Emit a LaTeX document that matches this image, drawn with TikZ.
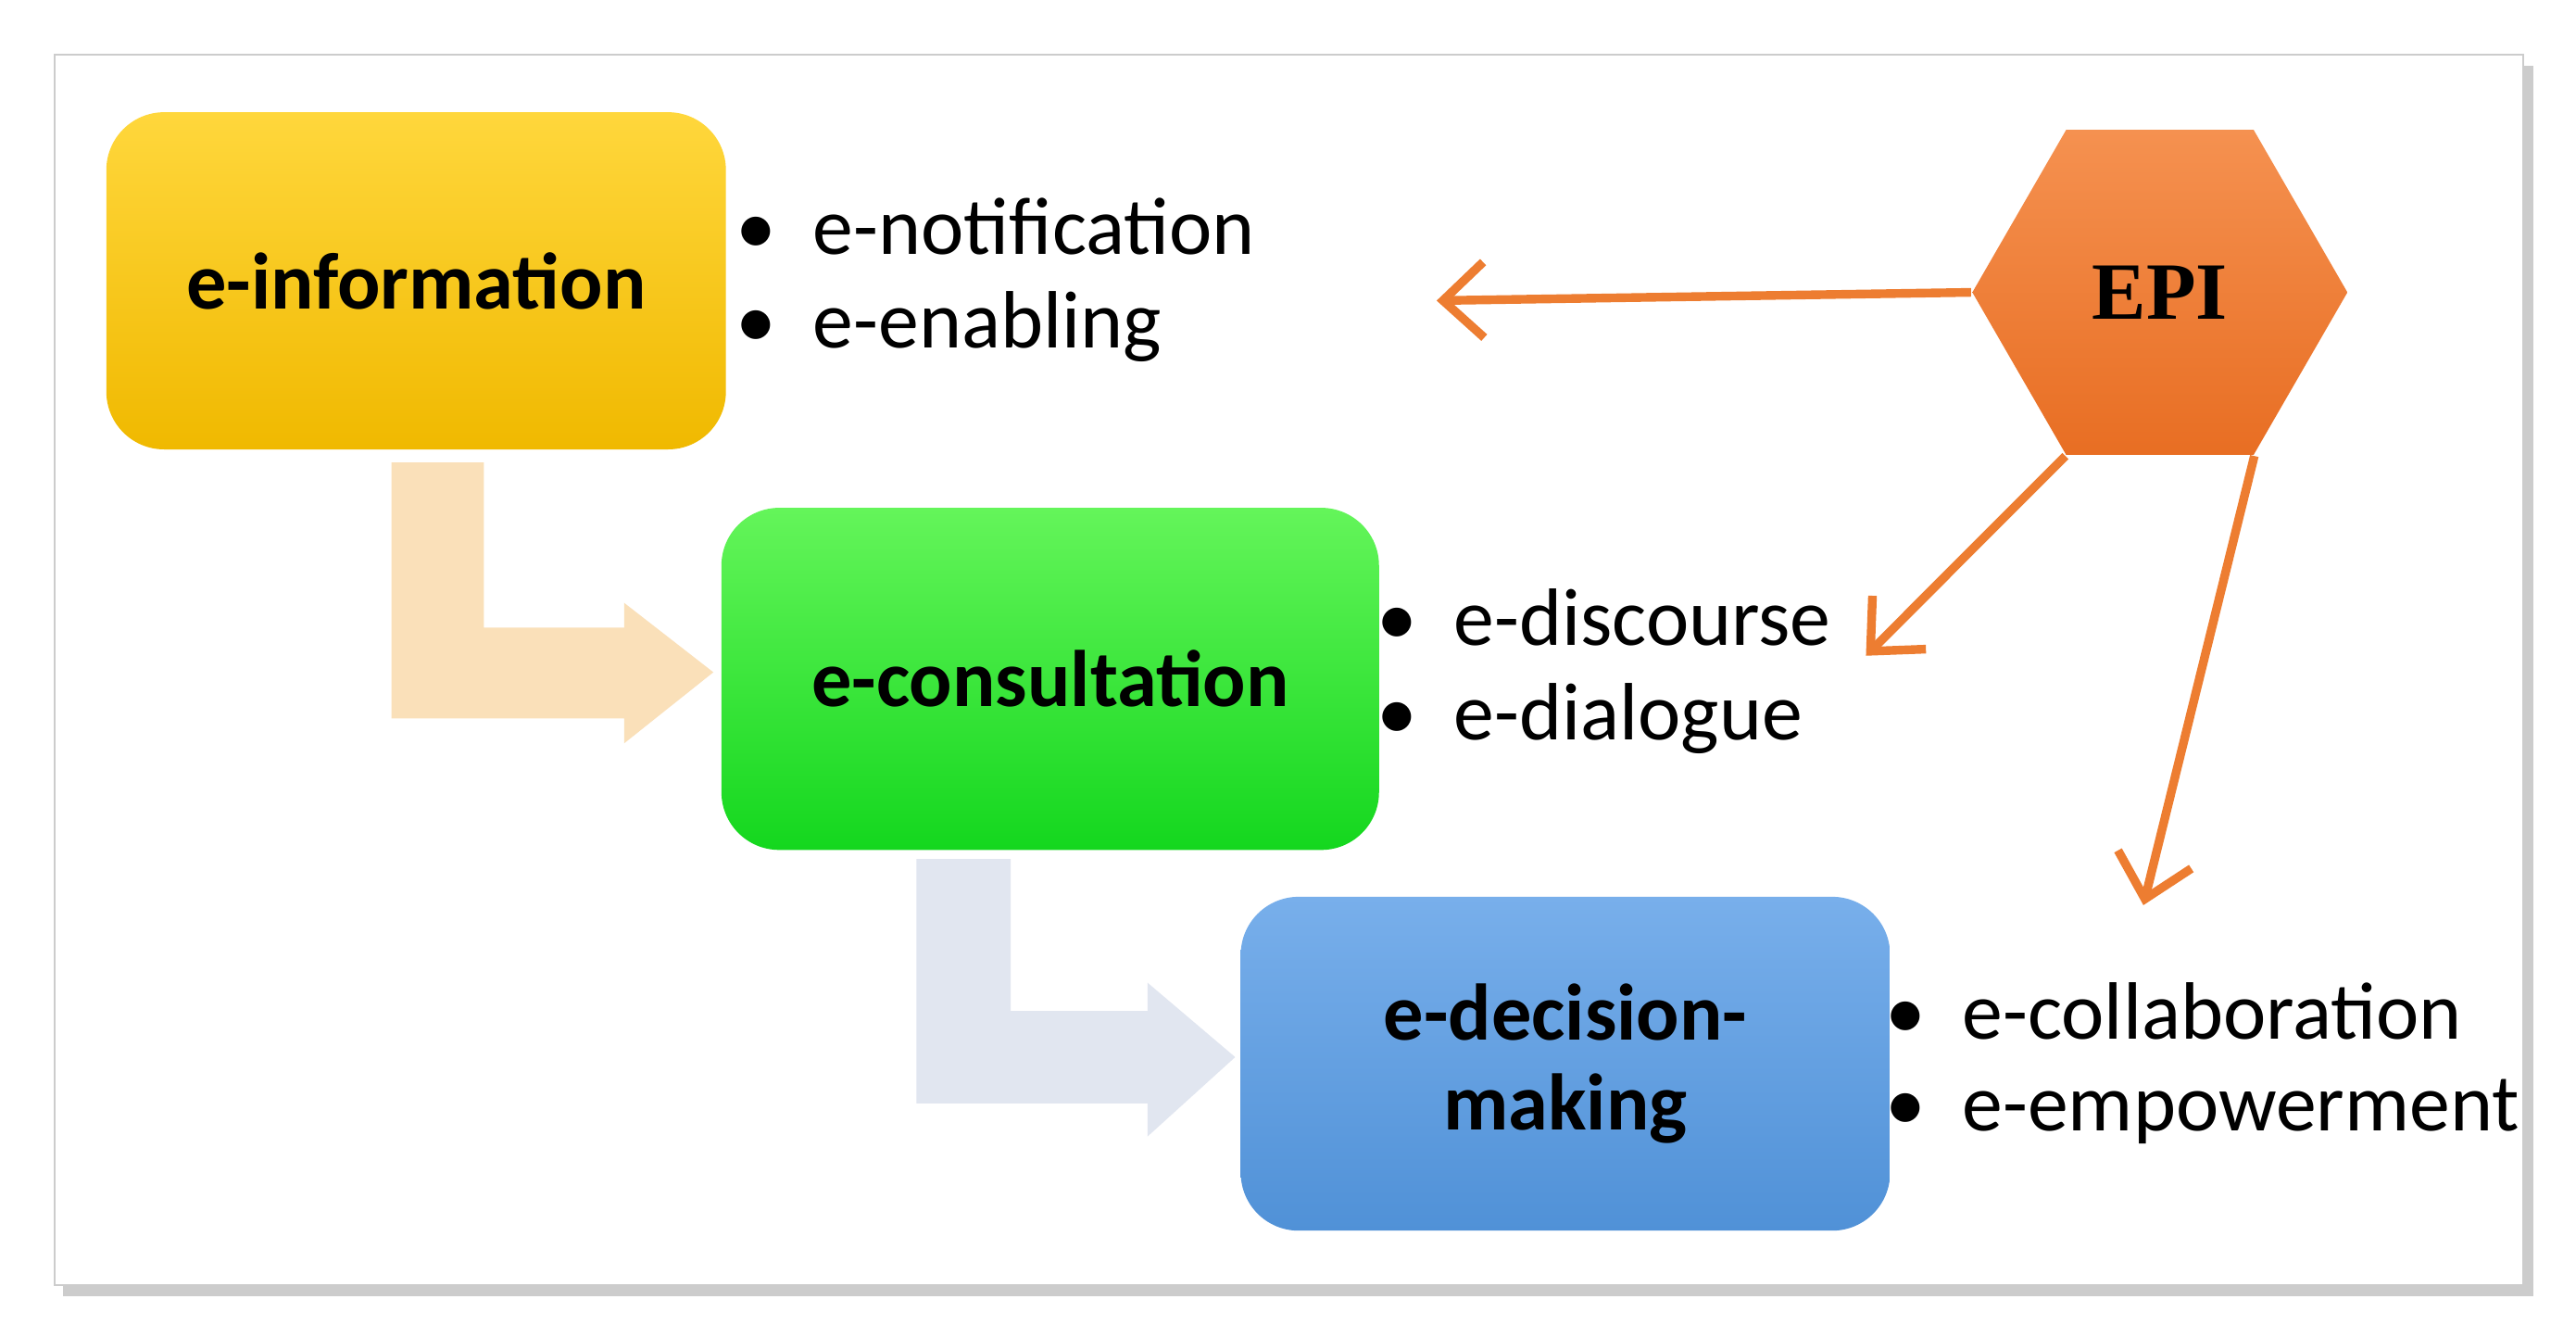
\documentclass[tikz,border=0pt]{standalone}
\usepackage{fontspec}
\setmainfont{Carlito}
\usetikzlibrary{shapes.geometric,arrows.meta,shadows}
\definecolor{peach}{RGB}{250,224,185}
\definecolor{paleblue}{RGB}{225,230,240}
\begin{document}
\begin{tikzpicture}[x=0.01cm,y=-0.01cm,
  box/.style={draw=none,rounded corners=0.35cm,inner sep=0pt,font=\fontsize{13.8}{15.5}\selectfont\bfseries,align=center},
  item/.style={anchor=west,font=\fontsize{14}{16}\selectfont,inner sep=0pt},
  epiarr/.style={draw={rgb,255:red,237;green,125;blue,49},line width=1.5pt,-{Straight Barb[length=7pt,width=13pt]}}]
\useasboundingbox (0,0) rectangle (1560,809);
\fill[gray!40] (38,40) rectangle (1534,785);
\filldraw[draw=gray!40,fill=white] (33,33) rectangle (1528,778);
% bent arrows
\fill[peach] (237,280) -- (293,280) -- (293,380) -- (378,380) -- (378,365) -- (432,407) -- (378,450) -- (378,435) -- (237,435) -- cycle;
\fill[paleblue] (555,520) -- (612,520) -- (612,612) -- (695,612) -- (695,595) -- (748,640) -- (695,688) -- (695,668) -- (555,668) -- cycle;
% boxes
\node[box,minimum width=3.75cm,minimum height=2.04cm,top color={rgb,255:red,255;green,215;blue,60},bottom color={rgb,255:red,240;green,185;blue,0}] (info) at (252,170) {e-information};
\node[box,minimum width=3.98cm,minimum height=2.07cm,top color={rgb,255:red,100;green,245;blue,90},bottom color={rgb,255:red,20;green,215;blue,30}] (cons) at (636,411) {e-consultation};
\node[box,minimum width=3.93cm,minimum height=2.02cm,top color={rgb,255:red,120;green,175;blue,235},bottom color={rgb,255:red,80;green,145;blue,215}] (dec) at (948,644) {e-decision-\\making};
% items
\node[item] (n1) at (445,137) {\textbullet\ \ e-notification};
\node[item] (n2) at (445,198) {\textbullet\ \ e-enabling};
\node[item] (n3) at (833,374) {\textbullet\ \ e-discourse};
\node[item] (n4) at (833,435) {\textbullet\ \ e-dialogue};
\node[item] (n5) at (1141,612) {\textbullet\ \ e-collaboration};
\node[item] (n6) at (1141,673) {\textbullet\ \ e-empowerment};
% EPI
\node[regular polygon,regular polygon sides=6,minimum size=2.27cm,inner sep=0pt,
  top color={rgb,255:red,245;green,145;blue,80},bottom color={rgb,255:red,232;green,110;blue,35},
  font=\fontsize{14}{16}\selectfont\bfseries\fontspec{Liberation Serif}] (epi) at (1308,177) {EPI};
\coordinate (t1) at (870,182);
\coordinate (t2) at (1130,397);
\coordinate (t3) at (1298,548);
\draw[epiarr] (epi.west) -- (t1);
\draw[epiarr] (epi.corner 4) -- (t2);
\draw[epiarr] (epi.corner 5) -- (t3);
\end{tikzpicture}
\end{document}
